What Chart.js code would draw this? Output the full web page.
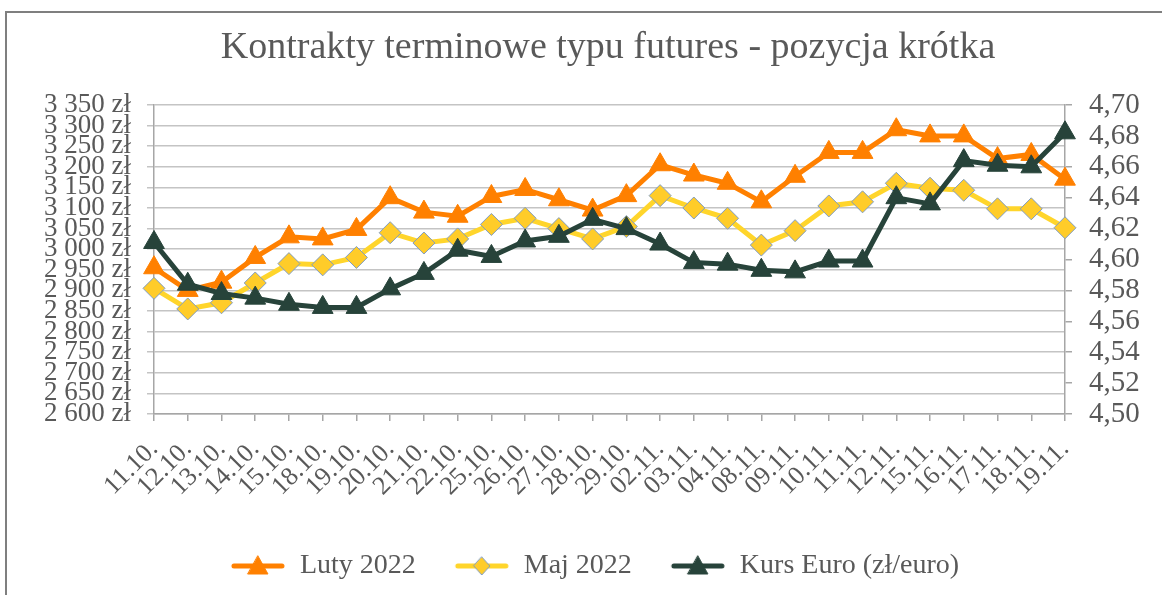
<!DOCTYPE html>
<html><head><meta charset="utf-8">
<script src="https://cdn.jsdelivr.net/npm/chart.js@4"></script>
<style>
html,body{margin:0;padding:0;background:#fff;}
#wrap{position:relative;width:1162px;height:595px;overflow:hidden;}
#frame{position:absolute;left:5px;top:11px;width:1200px;height:700px;border-left:2px solid #7f7f7f;border-top:2px solid #7f7f7f;pointer-events:none;}
</style></head><body>
<div id="wrap"><canvas id="c" width="1162" height="595"></canvas><div id="frame"></div></div>
<script>
const categories = ['11.10.','12.10.','13.10.','14.10.','15.10.','18.10.','19.10.','20.10.','21.10.','22.10.','25.10.','26.10.','27.10.','28.10.','29.10.','02.11.','03.11.','04.11.','08.11.','09.11.','10.11.','11.11.','12.11.','15.11.','16.11.','17.11.','18.11.','19.11.'];
const lutyValues = [2955,2900,2920,2980,3030,3025,3048,3125,3090,3080,3128,3145,3120,3095,3130,3205,3180,3160,3115,3177,3235,3235,3290,3275,3275,3220,3230,3170];
const majValues = [2905,2855,2870,2918,2965,2962,2980,3040,3015,3025,3060,3075,3050,3025,3055,3130,3100,3075,3010,3045,3105,3115,3160,3148,3143,3098,3098,3052];
const euroValues = [4.611,4.584,4.578,4.575,4.571,4.569,4.569,4.581,4.591,4.606,4.602,4.612,4.615,4.626,4.620,4.610,4.598,4.597,4.593,4.592,4.599,4.599,4.640,4.636,4.664,4.661,4.660,4.682];
const leftAxisRange = [2600, 3350, 50];
const rightAxisRange = [4.50, 4.70, 0.02];
const seriesNames = ['Luty 2022','Maj 2022','Kurs Euro (zł/euro)'];
const chartTitle = 'Kontrakty terminowe typu futures - pozycja krótka';

const FONT = "'Liberation Serif', 'DejaVu Serif', serif";
const TXT = '#595959';
const ORANGE = '#ff8000', YELLOW = '#ffd52b', DIAMOND = '#ffcc29', DIAMOND_BORDER = '#7f9cc2', DARK = '#27433a';

function legendIcon(color, shape, fill, stroke){
  const c = document.createElement('canvas'); c.width = 56; c.height = 26;
  const g = c.getContext('2d');
  g.strokeStyle = color; g.lineWidth = 5; g.lineCap = 'round';
  g.beginPath(); g.moveTo(4,13); g.lineTo(52,13); g.stroke();
  g.fillStyle = fill; g.strokeStyle = stroke; g.lineWidth = 1;
  g.beginPath();
  if (shape === 'tri') { g.moveTo(28,3); g.lineTo(38,21); g.lineTo(18,21); g.closePath(); }
  else { g.moveTo(28,4); g.lineTo(36,13); g.lineTo(28,22); g.lineTo(20,13); g.closePath(); }
  g.fill(); g.stroke();
  return c;
}
const icons = [legendIcon(ORANGE,'tri',ORANGE,ORANGE), legendIcon(YELLOW,'dia',DIAMOND,DIAMOND_BORDER), legendIcon(DARK,'tri',DARK,DARK)];

function fmtLeft(v){
  const th = Math.floor(v/1000), rest = Math.round(v%1000);
  return th + ' ' + String(rest).padStart(3,'0') + ' zł';
}

const titlePlugin = {
  id: 'offsetTitle',
  afterDraw(chart){
    const ctx = chart.ctx;
    ctx.save();
    ctx.font = '38px ' + FONT;
    ctx.fillStyle = TXT;
    ctx.textAlign = 'center';
    ctx.textBaseline = 'middle';
    ctx.fillText(chartTitle, 608, 48);
    ctx.restore();
  }
};

new Chart(document.getElementById('c'), {
  type: 'line',
  data: {
    labels: categories,
    datasets: [
      { label: seriesNames[0], data: lutyValues, yAxisID: 'y', order: 3,
        borderColor: ORANGE, backgroundColor: ORANGE, borderWidth: 5,
        pointStyle: 'triangle', pointRadius: 12, pointHoverRadius: 12,
        pointBackgroundColor: ORANGE, pointBorderColor: ORANGE, pointBorderWidth: 1, tension: 0 },
      { label: seriesNames[1], data: majValues, yAxisID: 'y', order: 2,
        borderColor: YELLOW, backgroundColor: DIAMOND, borderWidth: 5,
        pointStyle: 'rectRot', pointRadius: 11, pointHoverRadius: 11,
        pointBackgroundColor: DIAMOND, pointBorderColor: DIAMOND_BORDER, pointBorderWidth: 1, tension: 0 },
      { label: seriesNames[2], data: euroValues, yAxisID: 'y1', order: 1,
        borderColor: DARK, backgroundColor: DARK, borderWidth: 5,
        pointStyle: 'triangle', pointRadius: 12, pointHoverRadius: 12,
        pointBackgroundColor: DARK, pointBorderColor: DARK, pointBorderWidth: 1, tension: 0 }
    ]
  },
  plugins: [titlePlugin],
  options: {
    responsive: false, animation: false, devicePixelRatio: 1,
    layout: { padding: { left: 27, right: 0, top: 105, bottom: 5 } },
    plugins: {
      tooltip: { enabled: false },
      title: { display: false },
      legend: { position: 'bottom',
        labels: { usePointStyle: true, pointStyleWidth: 56, boxHeight: 26, padding: 38, color: TXT,
          font: { family: FONT, size: 28 },
          generateLabels(chart){
            const items = Chart.defaults.plugins.legend.labels.generateLabels(chart);
            items.sort((a,b)=>a.datasetIndex-b.datasetIndex);
            items.forEach(it => { it.pointStyle = icons[it.datasetIndex]; });
            return items;
          } } }
    },
    scales: {
      x: {
        offset: false,
        grid: { drawOnChartArea: false, drawTicks: true, tickLength: 7, color: '#a6a6a6', lineWidth: 1.5 },
        border: { display: true, color: '#a6a6a6', width: 1.5 },
        ticks: { autoSkip: false, maxRotation: 45, minRotation: 45, color: TXT, padding: 13,
          font: { family: FONT, size: 26 } },
        afterFit(s){ s.height = 100; }
      },
      y: {
        position: 'left', min: leftAxisRange[0], max: leftAxisRange[1],
        grid: { color: '#c4c4c4', lineWidth: 1.5, tickLength: 7 },
        border: { display: true, color: '#a6a6a6', width: 1.5 },
        ticks: { stepSize: leftAxisRange[2], autoSkip: false, color: TXT, padding: 16,
          font: { family: FONT, size: 27 }, callback: v => fmtLeft(v) },
        afterFit(s){ s.width = 127; }
      },
      y1: {
        position: 'right', min: rightAxisRange[0], max: rightAxisRange[1],
        grid: { drawOnChartArea: false, color: '#a6a6a6', lineWidth: 1.5, tickLength: 7 },
        border: { display: true, color: '#a6a6a6', width: 1.5 },
        ticks: { stepSize: rightAxisRange[2], autoSkip: false, color: TXT, padding: 17,
          font: { family: FONT, size: 29 }, callback: v => Number(v).toFixed(2).replace('.', ',') },
        afterFit(s){ s.width = 97; }
      }
    }
  }
});
</script>
</body></html>
